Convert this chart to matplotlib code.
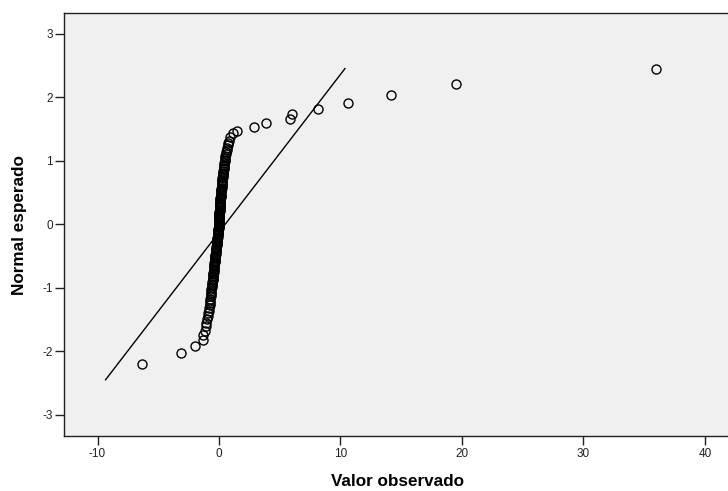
import matplotlib
matplotlib.use("Agg")
import matplotlib.pyplot as plt

plt.rcParams["font.family"] = ["Liberation Sans", "DejaVu Sans"]
plt.rcParams["axes.unicode_minus"] = False

# Tail points
tail_low_obs = [-6.36, -3.15, -1.98, -1.34]
tail_low_exp = [-2.20, -2.03, -1.91, -1.82]
tail_high_obs = [0.90, 1.18, 1.45, 2.91, 3.84, 5.84, 5.98, 8.12, 10.59, 14.13, 19.50, 35.95]
tail_high_exp = [1.38, 1.43, 1.47, 1.53, 1.59, 1.65, 1.73, 1.81, 1.91, 2.03, 2.21, 2.45]

# Dense body of the plot, lower half (observed value, expected normal)
body_low_obs = [-1.28, -1.17, -1.09, -1.03, -0.98, -0.93, -0.88, -0.84, -0.81, -0.78,
                -0.75, -0.73, -0.71, -0.69, -0.67, -0.65, -0.63, -0.62, -0.60, -0.58,
                -0.56, -0.55, -0.53, -0.52, -0.50, -0.49, -0.48, -0.46, -0.45, -0.44,
                -0.43, -0.41, -0.40, -0.39, -0.38, -0.36, -0.35, -0.34, -0.33, -0.31,
                -0.30, -0.29, -0.28, -0.26, -0.25, -0.24, -0.23, -0.22, -0.21, -0.20,
                -0.19, -0.18, -0.17, -0.16, -0.15, -0.14, -0.13, -0.12, -0.11, -0.10,
                -0.09, -0.08, -0.07, -0.06, -0.05, -0.04, -0.04, -0.03, -0.02]
body_low_exp = [-1.75, -1.675, -1.61, -1.55, -1.50, -1.45, -1.40, -1.36, -1.317, -1.278,
                -1.24, -1.205, -1.171, -1.138, -1.107, -1.076, -1.046, -1.018, -0.990, -0.963,
                -0.936, -0.911, -0.886, -0.861, -0.837, -0.813, -0.790, -0.767, -0.745, -0.723,
                -0.701, -0.680, -0.659, -0.638, -0.617, -0.597, -0.577, -0.557, -0.538, -0.519,
                -0.500, -0.481, -0.462, -0.443, -0.425, -0.407, -0.389, -0.371, -0.353, -0.335,
                -0.317, -0.299, -0.282, -0.264, -0.247, -0.230, -0.212, -0.195, -0.178, -0.161,
                -0.144, -0.127, -0.110, -0.093, -0.076, -0.059, -0.042, -0.025, -0.008]

# Dense body, upper half
body_high_obs = [-0.01, -0.01, 0.00, 0.00, 0.01, 0.01, 0.02, 0.02, 0.03, 0.03,
                 0.04, 0.04, 0.05, 0.05, 0.06, 0.06, 0.07, 0.08, 0.08, 0.09,
                 0.10, 0.11, 0.12, 0.12, 0.13, 0.14, 0.15, 0.16, 0.17, 0.18,
                 0.19, 0.20, 0.21, 0.22, 0.23, 0.24, 0.25, 0.26, 0.27, 0.28,
                 0.30, 0.31, 0.33, 0.34, 0.36, 0.37, 0.39, 0.40, 0.42, 0.44,
                 0.46, 0.48, 0.50, 0.53, 0.56, 0.59, 0.62, 0.66, 0.70, 0.75,
                 0.80]
body_high_exp = [0.008, 0.025, 0.042, 0.059, 0.076, 0.093, 0.110, 0.127, 0.144, 0.161,
                 0.178, 0.195, 0.212, 0.230, 0.247, 0.264, 0.282, 0.299, 0.317, 0.335,
                 0.353, 0.371, 0.389, 0.407, 0.425, 0.443, 0.462, 0.481, 0.500, 0.519,
                 0.538, 0.557, 0.577, 0.597, 0.617, 0.638, 0.659, 0.680, 0.701, 0.723,
                 0.745, 0.767, 0.790, 0.813, 0.837, 0.861, 0.886, 0.911, 0.936, 0.963,
                 0.990, 1.018, 1.046, 1.076, 1.107, 1.138, 1.171, 1.205, 1.240, 1.278,
                 1.317]

# Reference line end points
line_x = [-9.34, 10.37]
line_y = [-2.45, 2.45]

x_ticks = [-10, 0, 10, 20, 30, 40]
y_ticks = [-3, -2, -1, 0, 1, 2, 3]

observed = tail_low_obs + body_low_obs + body_high_obs + tail_high_obs
expected = tail_low_exp + body_low_exp + body_high_exp + tail_high_exp

W, H = 728, 491
fig = plt.figure(figsize=(W / 100, H / 100), dpi=100)
ax = fig.add_axes([64 / W, (H - 435.7) / H, (W - 64) / W, (435.7 - 13.3) / H])
ax.set_facecolor("#f0f0f0")

ax.plot(line_x, line_y, color="black", lw=1.0)
ax.plot(observed, expected, linestyle="none", marker="o", markersize=6.5,
        markerfacecolor="none", markeredgecolor="black", markeredgewidth=1.0)

ax.set_xlim(-12.76, 41.9)
ax.set_ylim(-3.33, 3.32)
ax.set_xticks(x_ticks)
ax.set_yticks(y_ticks)
ax.tick_params(direction="out", length=6.5, width=1.0, labelsize=8.5, pad=2.5, colors="#222222")
ax.tick_params(axis="y", pad=1.5)
ax.spines["right"].set_visible(False)
for s in ["left", "bottom", "top"]:
    ax.spines[s].set_linewidth(1.0)
    ax.spines[s].set_color("#222222")

fig.text(398 / W, 1 - 481 / H, "Valor observado", ha="center", va="center",
         fontsize=12.3, fontweight="bold")
fig.text(20 / W, 1 - 225 / H, "Normal esperado", ha="center", va="center",
         rotation=90, fontsize=12.3, fontweight="bold")

fig.savefig("out.png", dpi=100)
